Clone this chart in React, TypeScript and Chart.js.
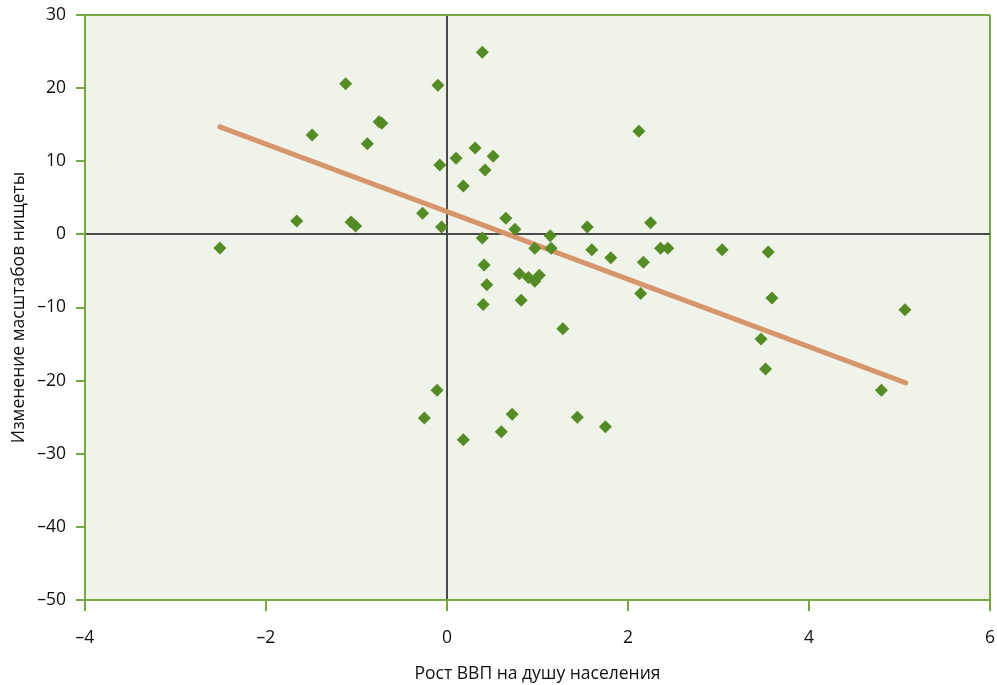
import React, { useEffect, useRef } from "react";
import { Chart, registerables } from "chart.js";

Chart.register(...registerables);

const gdpGrowth = [
  -2.51, -1.66, -1.49, -1.12, -1.06, -1.01, -0.88, -0.75, -0.72, -0.27,
  -0.25, -0.11, -0.1, -0.08, -0.06, 0.1, 0.18, 0.18, 0.31, 0.39,
  0.39, 0.4, 0.41, 0.42, 0.44, 0.51, 0.6, 0.65, 0.72, 0.75,
  0.8, 0.82, 0.9, 0.97, 0.97, 1.02, 1.14, 1.15, 1.28, 1.44,
  1.55, 1.6, 1.75, 1.81, 2.12, 2.14, 2.17, 2.25, 2.36, 2.44,
  3.04, 3.47, 3.52, 3.55, 3.59, 4.8, 5.06,
];
const povertyChange = [
  -1.86, 1.83, 13.6, 20.6, 1.7, 1.15, 12.4, 15.4, 15.2, 2.9,
  -25.1, -21.3, 20.4, 9.5, 1.0, 10.4, 6.6, -28.1, 11.8, 24.9,
  -0.5, -9.6, -4.2, 8.8, -6.9, 10.7, -27.0, 2.2, -24.6, 0.7,
  -5.4, -9.0, -5.9, -6.4, -1.9, -5.6, -0.2, -1.9, -12.9, -25.0,
  1.0, -2.1, -26.3, -3.2, 14.1, -8.1, -3.8, 1.6, -1.9, -1.9,
  -2.1, -14.3, -18.4, -2.4, -8.7, -21.3, -10.3,
];
const trendX = [-2.51, 5.07];
const trendY = [14.7, -20.3];

const xTicks = [-4, -2, 0, 2, 4, 6];
const yTicks = [-50, -40, -30, -20, -10, 0, 10, 20, 30];
const xTitle = "Рост ВВП на душу населения";
const yTitle = "Изменение масштабов нищеты";

const FONT = "'Open Sans', 'Noto Sans', sans-serif";
const AXIS_GREEN = "#78a645";
const ZERO_GRAY = "#4a4a4a";

const fmt = (v: number) => (v < 0 ? "\u2013" + Math.abs(v) : String(v));

const bgPlugin = {
  id: "plotBg",
  beforeDraw(chart: any) {
    const { ctx, chartArea } = chart;
    ctx.save();
    ctx.fillStyle = "#eff3e9";
    ctx.fillRect(chartArea.left, chartArea.top, chartArea.right - chartArea.left, chartArea.bottom - chartArea.top);
    ctx.restore();
  },
};

export default function App() {
  const ref = useRef<HTMLCanvasElement | null>(null);
  useEffect(() => {
    document.body.style.margin = "0";
    if (!ref.current) return;
    const xMin = xTicks[0];
    const xMax = xTicks[xTicks.length - 1];
    const yMin = yTicks[0];
    const yMax = yTicks[yTicks.length - 1];
    const chart = new Chart(ref.current, {
      type: "scatter",
      data: {
        datasets: [
          {
            type: "scatter",
            data: gdpGrowth.map((x, i) => ({ x, y: povertyChange[i] })),
            pointStyle: "rectRot",
            pointRadius: 6.5,
            backgroundColor: "#558b24",
            borderColor: "#558b24",
            borderWidth: 0,
            order: 1,
          },
          {
            type: "line",
            data: trendX.map((x, i) => ({ x, y: trendY[i] })),
            borderColor: "#d6956a",
            borderWidth: 5,
            pointRadius: 0,
            borderCapStyle: "round",
            fill: false,
            order: 2,
          } as any,
        ],
      },
      options: {
        animation: false,
        responsive: false,
        layout: { padding: { left: 8, right: 7, top: 15, bottom: 0 } },
        plugins: { legend: { display: false }, tooltip: { enabled: false } },
        scales: {
          x: {
            type: "linear",
            min: xMin,
            max: xMax,
            afterBuildTicks: (s: any) => { s.ticks = xTicks.map((v) => ({ value: v })); },
            afterFit: (s: any) => { s.height = 85; s.paddingLeft = 0; s.paddingRight = 0; },
            border: { display: true, color: AXIS_GREEN, width: 2 },
            grid: {
              drawOnChartArea: true,
              color: (c: any) => (c.tick && c.tick.value === 0 ? ZERO_GRAY : c.tick && c.tick.value === xMax ? AXIS_GREEN : "transparent"),
              lineWidth: 2,
              tickColor: AXIS_GREEN,
              tickLength: 11,
              tickWidth: 2,
            },
            ticks: {
              callback: (v: any) => fmt(Number(v)),
              color: "#111",
              font: { family: FONT, size: 17.5 },
              padding: 17,
              maxRotation: 0,
            },
            title: {
              display: true,
              text: xTitle,
              color: "#111",
              font: { family: FONT, size: 17.5 },
              padding: { top: 0, bottom: 0 },
            },
          },
          y: {
            type: "linear",
            min: yMin,
            max: yMax,
            afterBuildTicks: (s: any) => { s.ticks = yTicks.map((v) => ({ value: v })); },
            afterFit: (s: any) => { s.width = 77; s.paddingTop = 0; s.paddingBottom = 0; },
            border: { display: true, color: AXIS_GREEN, width: 2 },
            grid: {
              drawOnChartArea: true,
              color: (c: any) => (c.tick && c.tick.value === 0 ? ZERO_GRAY : c.tick && c.tick.value === yMax ? AXIS_GREEN : "transparent"),
              lineWidth: 2,
              tickColor: AXIS_GREEN,
              tickLength: 9,
              tickWidth: 2,
            },
            ticks: {
              callback: (v: any) => fmt(Number(v)),
              color: "#111",
              font: { family: FONT, size: 17.5 },
              padding: 10,
            },
            title: {
              display: true,
              text: yTitle,
              color: "#111",
              font: { family: FONT, size: 17.5 },
              padding: { top: 1, bottom: 0 },
            },
          },
        },
      },
      plugins: [bgPlugin],
    } as any);
    return () => chart.destroy();
  }, []);
  return (
    <div style={{ width: 997, height: 685 }}>
      <canvas ref={ref} width={997} height={685} style={{ display: "block" }} />
    </div>
  );
}
